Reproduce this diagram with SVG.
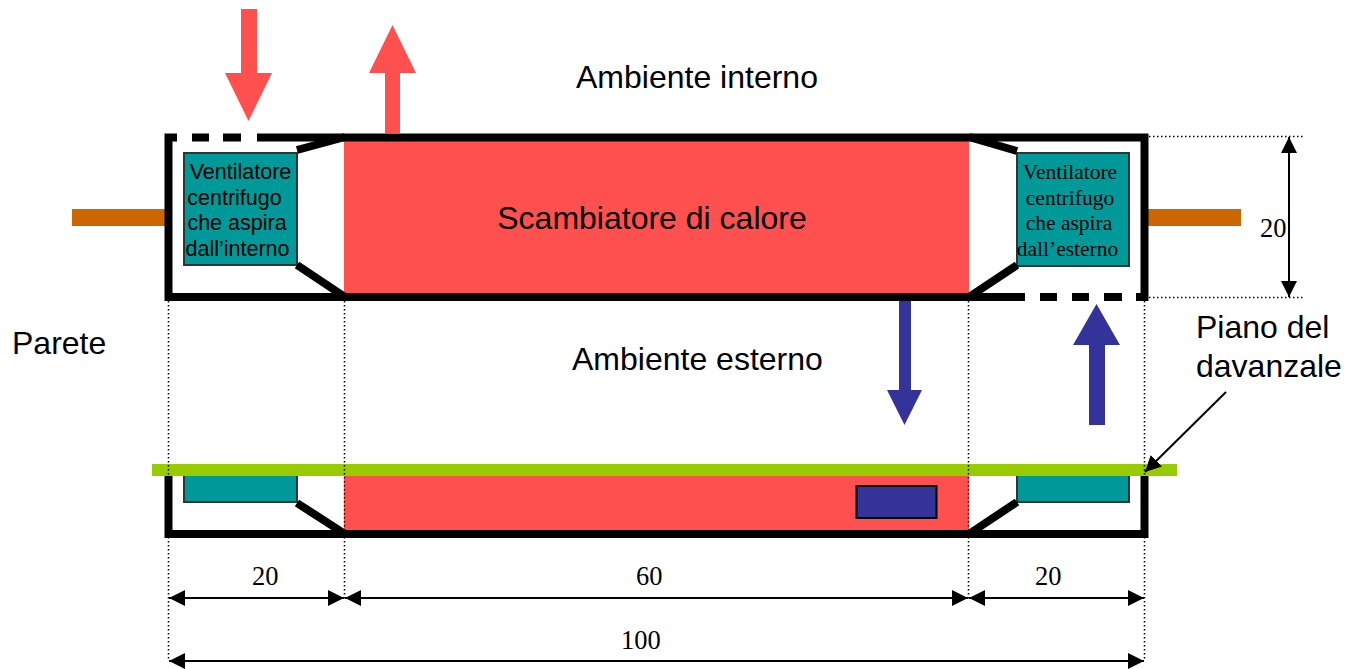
<svg xmlns="http://www.w3.org/2000/svg" width="1349" height="669" viewBox="0 0 1349 669">
<style>
.wall{fill:none;stroke:#000;stroke-width:8;stroke-linecap:butt;stroke-linejoin:miter}
.fan{fill:#009999;stroke:#333;stroke-width:2}
.red{fill:#ff5050}
.blue{fill:#333399}
.orange{fill:#cc6600}
.green{fill:#99cc00}
.gap{fill:#fff}
.dot{stroke:#000;stroke-width:1.5;stroke-dasharray:1.5 2.5;fill:none}
.dim{stroke:#000;stroke-width:2;fill:none;marker-start:url(#a);marker-end:url(#a)}
.sans{font-family:"Liberation Sans",Arial,sans-serif;fill:#000}
.serif{font-family:"Liberation Serif","Times New Roman",serif;fill:#000}
.lbl{font-size:32px}
.num{font-size:26.500px}
.fantxt{font-size:21.500px;text-anchor:middle}
</style>
<defs>
<marker id="a" viewBox="0 0 16 16" refX="16" refY="8" markerWidth="16" markerHeight="16" markerUnits="userSpaceOnUse" orient="auto-start-reverse"><path d="M0 0L16 8L0 16Z" fill="#000"/></marker>
</defs>
<g id="parete">
<rect class="orange" x="72" y="209" width="97" height="17"/>
<rect class="orange" x="1145" y="209" width="96" height="17"/>
</g>
<g id="scambiatore">
<rect class="red" x="344" y="137" width="625" height="160"/>
<text class="sans" x="652" y="229" font-size="32" text-anchor="middle">Scambiatore di calore</text>
</g>
<g id="ventilatore-interno">
<rect class="fan" x="184" y="153" width="113" height="112"/>
<text class="sans fantxt"><tspan x="240.500" y="179">Ventilatore</tspan><tspan x="234.500" y="205">centrifugo</tspan><tspan x="237" y="230">che aspira</tspan><tspan x="237.500" y="256">dall’interno</tspan></text>
</g>
<g id="ventilatore-esterno">
<rect class="fan" x="1017" y="153" width="112" height="113"/>
<text class="serif fantxt"><tspan x="1070" y="179">Ventilatore</tspan><tspan x="1070" y="205">centrifugo</tspan><tspan x="1069" y="230">che aspira</tspan><tspan x="1067.500" y="256">dall’esterno</tspan></text>
</g>
<g id="involucro-superiore">
<rect class="wall" x="168.500" y="137.500" width="976" height="159.500"/>
<path class="wall" d="M297 150L345 137M297 265L345 297M1017 151L969 137M1017 265L969 297"/>
<rect class="gap" x="177" y="132" width="15" height="11"/>
<rect class="gap" x="209" y="132" width="14" height="11"/>
<rect class="gap" x="241" y="132" width="16" height="11"/>
<rect class="gap" x="1025" y="292" width="15" height="11"/>
<rect class="gap" x="1057" y="292" width="15" height="11"/>
<rect class="gap" x="1089" y="292" width="15" height="11"/>
<rect class="gap" x="1122" y="292" width="14" height="11"/>
</g>
<g id="sezione-inferiore">
<rect class="red" x="344" y="470" width="625" height="62"/>
<rect class="fan" x="184" y="470" width="113" height="32"/>
<rect class="fan" x="1017" y="470" width="112" height="32"/>
<rect x="856.500" y="486" width="80" height="32" class="blue" stroke="#000" stroke-width="2"/>
<path class="wall" d="M168.500 470V534H1144.500V470M297 503L345 534M1017 502L969 534"/>
<rect class="green" x="152" y="464" width="1025" height="12"/>
</g>
<g id="frecce">
<path id="freccia-rossa-giu" class="red" d="M241 9H257V73H272L248.500 121L225 73H241Z"/>
<path id="freccia-rossa-su" class="red" d="M385 133V73H369L392.500 25L416 73H400V133Z"/>
<path id="freccia-blu-giu" class="blue" d="M899 301H911V390H922L904.500 425L887 390H899Z"/>
<path id="freccia-blu-su" class="blue" d="M1089 425V345H1073L1096.500 304L1120 345H1105V425Z"/>
</g>
<g id="connettori">
<path class="dot" d="M168.500 301V660M344.500 301V600M968.500 301V600M1144.500 301V660M1149 136.500H1303M1149 297.500H1303"/>
<path class="dim" d="M1289 137V297"/>
<path class="dim" d="M169 598H344"/>
<path class="dim" d="M345 598H968"/>
<path class="dim" d="M969 598H1144"/>
<path class="dim" d="M169 661H1144"/>
<path class="dim" style="marker-start:none" d="M1226 392L1145 472"/>
</g>
<g id="etichette">
<text class="sans lbl" x="576" y="88">Ambiente interno</text>
<text class="sans lbl" x="572" y="370">Ambiente esterno</text>
<text class="sans lbl" x="12" y="354">Parete</text>
<text class="sans lbl" x="1196" y="338">Piano del</text>
<text class="sans lbl" x="1196" y="377">davanzale</text>
<text class="serif num" x="1260" y="237">20</text>
<text class="serif num" x="252" y="585">20</text>
<text class="serif num" x="636" y="585">60</text>
<text class="serif num" x="1035" y="585">20</text>
<text class="serif num" x="621" y="649">100</text>
</g>
</svg>
